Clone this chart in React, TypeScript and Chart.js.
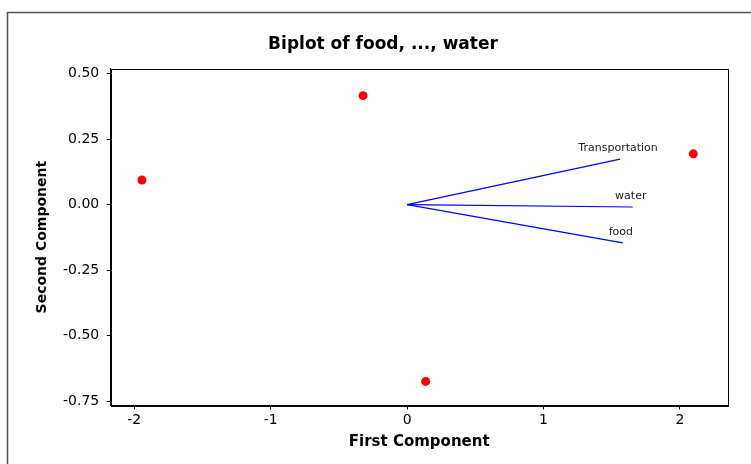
import React, { useEffect, useRef } from "react";
import { Chart, registerables } from "chart.js";

Chart.register(...registerables);

// Observation scores (First Component, Second Component)
const scoreX = [-1.944, -0.323, 2.098, 0.136];
const scoreY = [0.094, 0.416, 0.194, -0.675];

// Variable loading vectors
const varNames = ["Transportation", "water", "food"];
const varX = [1.561, 1.654, 1.581];
const varY = [0.174, -0.009, -0.146];

const xTickStep = 1;
const yTickStep = 0.25;

const titleText = "Biplot of food, ..., water";

const FONT = "'DejaVu Sans', sans-serif";

export default function App() {
  const ref = useRef<HTMLCanvasElement | null>(null);

  useEffect(() => {
    document.body.style.margin = "0";
    document.body.style.overflow = "hidden";
    const canvas = ref.current;
    if (!canvas) return;

    const framePlugin = {
      id: "frame",
      beforeDraw(chart: any) {
        const ctx = chart.ctx;
        ctx.save();
        ctx.fillStyle = "#ffffff";
        ctx.fillRect(0, 0, chart.width, chart.height);
        ctx.strokeStyle = "#505050";
        ctx.lineWidth = 1.5;
        ctx.beginPath();
        ctx.moveTo(7.5, chart.height);
        ctx.lineTo(7.5, 12.5);
        ctx.lineTo(chart.width, 12.5);
        ctx.stroke();
        ctx.restore();
      },
      afterDraw(chart: any) {
        const { ctx, chartArea } = chart;
        ctx.save();
        ctx.strokeStyle = "#000";
        ctx.lineWidth = 1;
        ctx.strokeRect(
          Math.round(chartArea.left) + 0.5,
          Math.round(chartArea.top) + 0.5,
          Math.round(chartArea.right - chartArea.left),
          Math.round(chartArea.bottom - chartArea.top)
        );
        // title (centered in the outer frame)
        ctx.fillStyle = "#000";
        ctx.font = `bold 17px ${FONT}`;
        ctx.textAlign = "center";
        ctx.textBaseline = "middle";
        ctx.fillText(titleText, (chart.width + 15) / 2, 45);
        // vector labels
        const xs = chart.scales.x;
        const ys = chart.scales.y;
        ctx.fillStyle = "#222";
        ctx.font = `11px ${FONT}`;
        varNames.forEach((n, i) => {
          const px = xs.getPixelForValue(varX[i]);
          const py = ys.getPixelForValue(varY[i]);
          ctx.fillText(n, px - 2, py - 11);
        });
        ctx.restore();
      },
    };

    const datasets: any[] = [
      {
        label: "scores",
        data: scoreX.map((x, i) => ({ x, y: scoreY[i] })),
        backgroundColor: "#ff0000",
        borderWidth: 0,
        pointRadius: 4.5,
        showLine: false,
      },
      ...varNames.map((n, i) => ({
        label: n,
        data: [
          { x: 0, y: 0 },
          { x: varX[i], y: varY[i] },
        ],
        borderColor: "#0000ff",
        borderWidth: 1.2,
        pointRadius: 0,
        showLine: true,
        fill: false,
      })),
    ];

    const chart = new Chart(canvas, {
      type: "scatter",
      data: { datasets },
      plugins: [framePlugin],
      options: {
        animation: false,
        responsive: false,
        devicePixelRatio: 1,
        layout: { padding: { left: 0, right: 23.3, top: 68.7, bottom: 0 } },
        plugins: {
          legend: { display: false },
          tooltip: { enabled: false },
          title: { display: false },
        },
        scales: {
          x: {
            type: "linear",
            min: -2.173,
            max: 2.35,
            afterFit(scale: any) {
              scale.height = 58.5;
            },
            ticks: {
              stepSize: xTickStep,
              includeBounds: false,
              color: "#000",
              font: { family: FONT, size: 14 },
              padding: 2,
              maxRotation: 0,
            },
            grid: {
              drawOnChartArea: false,
              drawTicks: true,
              tickLength: 4,
              tickColor: "#000",
            },
            border: { display: true, color: "#000", width: 1 },
            title: {
              display: true,
              text: "First Component",
              color: "#000",
              font: { family: FONT, size: 15, weight: "bold" },
              padding: { top: 0, bottom: 13 },
            },
          },
          y: {
            type: "linear",
            min: -0.767,
            max: 0.519,
            afterFit(scale: any) {
              scale.width = 110.7;
            },
            ticks: {
              stepSize: yTickStep,
              includeBounds: false,
              color: "#000",
              font: { family: FONT, size: 14 },
              padding: 7.5,
              callback: (v: any) => Number(v).toFixed(2),
            },
            grid: {
              drawOnChartArea: false,
              drawTicks: true,
              tickLength: 4,
              tickColor: "#000",
            },
            border: { display: true, color: "#000", width: 1 },
            title: {
              display: true,
              text: "Second Component",
              color: "#000",
              font: { family: FONT, size: 14, weight: "bold" },
              padding: { top: 34, bottom: 0 },
            },
          },
        },
      },
    });

    return () => chart.destroy();
  }, []);

  return (
    <div style={{ width: 751, height: 464 }}>
      <canvas ref={ref} width={751} height={464} style={{ display: "block" }} />
    </div>
  );
}
